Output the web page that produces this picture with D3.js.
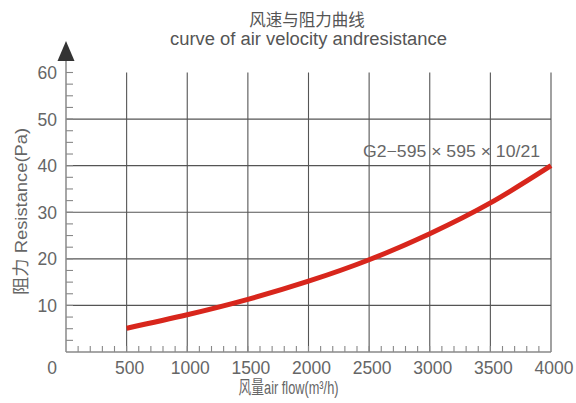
<!DOCTYPE html>
<html><head><meta charset="utf-8">
<script src="https://cdn.jsdelivr.net/npm/d3@7/dist/d3.min.js"></script>
<style>
html,body{margin:0;padding:0;background:#fff;}
text{font-family:"Liberation Sans",Arial,"Noto Sans CJK SC",sans-serif;fill:#666;}
.cjk{font-family:"Liberation Sans","Noto Sans CJK SC",sans-serif;}
</style></head>
<body><svg id="c" width="576" height="403"></svg>
<script>
const airflow = [500, 1000, 1500, 2000, 2500, 3000, 3500, 4000];
const resistance = [5.1, 8.0, 11.3, 15.2, 19.8, 25.4, 32.0, 40.0];
const xTicks = [0, 500, 1000, 1500, 2000, 2500, 3000, 3500, 4000];
const yTicks = [10, 20, 30, 40, 50, 60];
const seriesName = "G2\u2212595 \u00d7 595 \u00d7 10/21";
const titleCn = "风速与阻力曲线";
const titleEn = "curve of air velocity andresistance";
const xLabel = "风量air flow(m³/h)";
const yLabel = "阻力 Resistance(Pa)";

const svg = d3.select("#c");
const x = d3.scaleLinear().domain([0, 4000]).range([66, 551]);
const y = d3.scaleLinear().domain([0, 60]).range([352, 72.5]);

// grid
const g = svg.append("g");
g.selectAll(".hg").data(yTicks.filter(d => d < 60)).enter().append("line")
  .attr("x1", x(0)).attr("x2", x(4000))
  .attr("y1", d => y(d)).attr("y2", d => y(d))
  .attr("stroke", "#555").attr("stroke-width", 1.1);
g.selectAll(".vg").data(xTicks.filter(d => d > 0)).enter().append("line")
  .attr("x1", d => x(d)).attr("x2", d => x(d))
  .attr("y1", y(0)).attr("y2", y(60))
  .attr("stroke", "#555").attr("stroke-width", 1.1);

// minor ticks
const yMinor = d3.range(2.5, 60.01, 2.5);
g.selectAll(".ym").data(yMinor).enter().append("line")
  .attr("x1", x(0)).attr("x2", x(0) + 7)
  .attr("y1", d => y(d)).attr("y2", d => y(d))
  .attr("stroke", "#888").attr("stroke-width", 1.1);
const xMinor = d3.range(100, 4000, 100);
g.selectAll(".xm").data(xMinor).enter().append("line")
  .attr("x1", d => x(d)).attr("x2", d => x(d))
  .attr("y1", y(0)).attr("y2", y(0) - 6)
  .attr("stroke", "#888").attr("stroke-width", 1.1);

// axes
svg.append("line").attr("x1", x(0)).attr("x2", x(0)).attr("y1", y(0)).attr("y2", 58)
  .attr("stroke", "#888").attr("stroke-width", 1.5);
svg.append("line").attr("x1", x(0)).attr("x2", x(4000)).attr("y1", y(0)).attr("y2", y(0))
  .attr("stroke", "#888").attr("stroke-width", 1.5);
svg.append("path").attr("d", `M${x(0)},41 L${x(0)+8.5},61 L${x(0)-8.5},61 Z`).attr("fill", "#333");

// curve
const line = d3.line().x((d, i) => x(airflow[i])).y(d => y(d)).curve(d3.curveNatural);
svg.append("path").attr("d", line(resistance)).attr("fill", "none")
  .attr("stroke", "#d8261c").attr("stroke-width", 5).attr("stroke-linecap", "butt");

// tick labels
svg.selectAll(".xl").data(xTicks).enter().append("text")
  .attr("x", d => d === 0 ? 52 : x(d) + 3).attr("y", 373.5)
  .attr("text-anchor", "middle").style("font-size", "17.5px").text(d => d);
svg.selectAll(".yl").data(yTicks).enter().append("text")
  .attr("x", 57).attr("y", d => y(d) + 6.5)
  .attr("text-anchor", "end").style("font-size", "17.5px").text(d => d);

// series label
svg.append("text").attr("x", 363).attr("y", 157).style("font-size", "16.5px")
  .attr("textLength", 177).attr("lengthAdjust", "spacingAndGlyphs").text(seriesName);

// titles
svg.append("text").attr("class", "cjk").attr("x", 307).attr("y", 26).attr("text-anchor", "middle")
  .style("font-size", "16.5px").style("fill", "#555").text(titleCn);
svg.append("text").attr("x", 308.5).attr("y", 45).attr("text-anchor", "middle")
  .style("font-size", "18px").style("fill", "#555")
  .attr("textLength", 277).attr("lengthAdjust", "spacingAndGlyphs").text(titleEn);

// axis titles
svg.append("text").attr("class", "cjk").attr("x", 288.5).attr("y", 394).attr("text-anchor", "middle")
  .style("font-size", "18px").attr("textLength", 100).attr("lengthAdjust", "spacingAndGlyphs").text(xLabel);
svg.append("text").attr("class", "cjk").attr("transform", "translate(26.5,211.5) rotate(-90)")
  .attr("text-anchor", "middle").style("font-size", "17px")
  .attr("textLength", 167).attr("lengthAdjust", "spacingAndGlyphs").text(yLabel);
</script></body></html>
